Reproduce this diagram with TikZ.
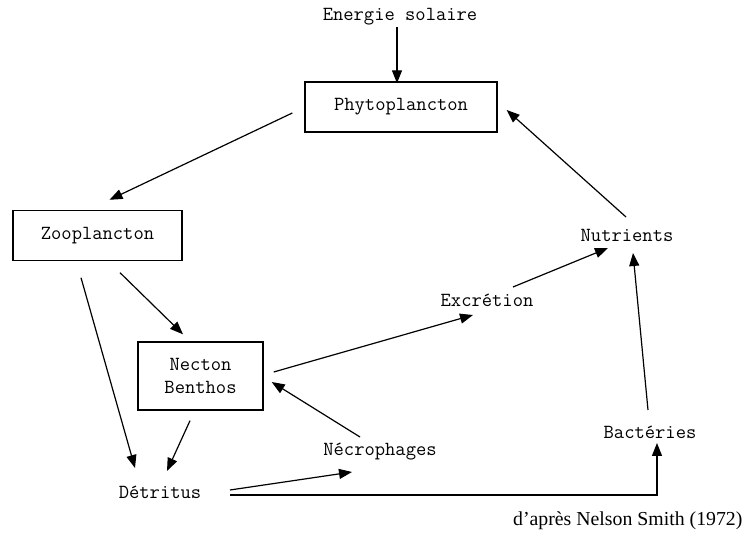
\documentclass[tikz,border=0pt]{standalone}
\usepackage{fontspec}
\setmainfont{Liberation Serif}
\usetikzlibrary{arrows.meta}

\begin{document}
\begin{tikzpicture}[x=1pt, y=-1pt,
    box/.style={draw, line width=1.4pt, font=\ttfamily\fontsize{20}{23}\selectfont, align=center},
    lbl/.style={font=\ttfamily\fontsize{20}{23}\selectfont},
    arr/.style={line width=1.2pt, -{Triangle[length=13pt, width=10pt]}}]
    \useasboundingbox (0,0) rectangle (748,545);

    % Boxes
    \node[box, minimum width=192, minimum height=50] (phyto) at (401,107) {Phytoplancton};
    \node[box, minimum width=169, minimum height=50] (zoo) at (97.5,235.5) {Zooplancton};
    \node[box, minimum width=125, minimum height=68] (nect) at (200.5,376) {Necton\\Benthos};

    % Labels
    \node[lbl] (sol) at (400,17) {Energie solaire};
    \node[lbl] (det) at (160,492) {Détritus};
    \node[lbl] (necro) at (380,452) {Nécrophages};
    \node[lbl] (excr) at (487,300) {Excrétion};
    \node[lbl] (nutr) at (627,235) {Nutrients};
    \node[lbl] (bact) at (650,432) {Bactéries};

    % Arrows
    \draw[arr] ([shift={(-3,-2)}]sol.south) -- ([shift={(-3,2)}]sol.south |- phyto.north);
    \draw[arr] ([shift={(-12,6)}]phyto.west) -- ([shift={(12,-10)}]zoo.north);
    \draw[arr] ([shift={(22.5,11.5)}]zoo.south) -- ([shift={(-17.5,-7)}]nect.north);
    \draw[arr] ([shift={(-16.5,16.5)}]zoo.south) -- ([shift={(-25,-24)}]det.center);
    \draw[arr] ([shift={(-10.5,10)}]nect.south) -- ([shift={(7,-21)}]det.center);
    \draw[arr] ([shift={(70,-2)}]det.center) -- ([shift={(-28,20)}]necro.center);
    \draw[arr] ([shift={(70,3)}]det.center) -| ([shift={(7,11)}]bact.center);
    \draw[arr] ([shift={(-20,-15)}]necro.center) -- ([shift={(8,6)}]nect.east);
    \draw[arr] ([shift={(10,-4)}]nect.east) -- ([shift={(-14,15)}]excr.center);
    \draw[arr] ([shift={(26,-13)}]excr.center) -- ([shift={(-19,13)}]nutr.center);
    \draw[arr] ([shift={(-1,-18)}]nutr.center) -- ([shift={(9,3)}]phyto.east);
    \draw[arr] ([shift={(-2,-22)}]bact.center) -- ([shift={(6,18)}]nutr.center);

    % Source
    \node[anchor=east, font=\fontsize{19.8}{23}\selectfont] (src) at (746,521) {d'après Nelson Smith (1972)};
\end{tikzpicture}
\end{document}
